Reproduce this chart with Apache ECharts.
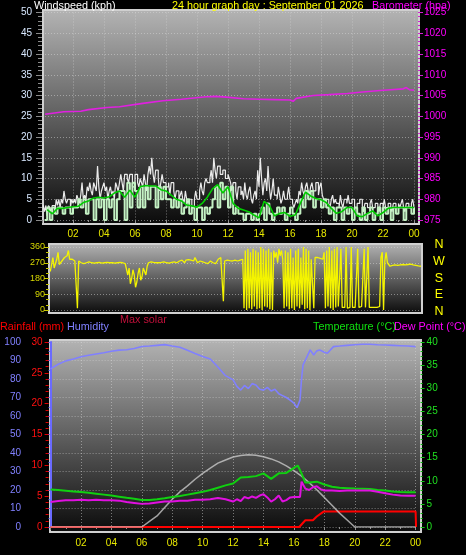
<!DOCTYPE html>
<html><head><meta charset="utf-8">
<script src="https://cdn.jsdelivr.net/npm/echarts@6/dist/echarts.min.js"></script>
<style>html,body{margin:0;padding:0;background:#000;}#c{width:466px;height:555px;}</style>
</head><body><div id="c"></div>
<script>
// ---------- DATA ----------
// wind gust every 5 minutes starting 00:05 (one row per hour)
const windGust = [
 3.5,2,3.5,1,3.5,3,2,3.5,3.5,2,5,3.5,
 5,3,5,4,7,5,4,5,5,3,5,4,
 5,4,6,5,4,6,9,5,6,5,8,7,
 9,7,6,9,8,7,13,8,5,7,8,9,
 7,8,5,7,8,6,7,5,9,8,7,9,
 11,9,7,11,11,10,9,11,11,8,8,11,
 11,9,8,10,9,8,11,9,7,11,13,11,
 15,11,9,12,12,10,7,9,11,9,9,8,
 8,9,6,9,9,7,5,7,7,5,6,7,
 5,4,7,5,4,5,5,3,3,5,7,5,
 5,7,9,7,6,9,10,9,9,10,12,9,
 15,12,10,13,13,11,11,12,12,10,10,11,
 10,9,7,9,9,7,5,8,8,6,7,5,
 9,6,5,7,8,5,4,6,7,5,12,8,
 15,10,6,9,10,7,13,8,5,7,10,6,
 6,5,8,6,4,5,7,5,5,6,8,5,
 5,4,3,4,5,4,7,6,9,7,6,8,
 9,7,6,8,9,7,7,9,9,6,8,9,
 6,5,4,5,5,4,3,5,6,4,5,4,
 4,3,6,4,3,5,5,4,6,4,4,5,
 5,3,3,4,4,5,5,3,2,4,4,3,
 3,4,5,3,3,4,4,3,2,4,4,3,
 5,3,3,4,4,3,2,4,4,3,3,4,
 3,4,5,3,2,4,4,3,3,4,5,3
];
// wind speed every 10 minutes starting 00:10
const windSpeed = [
 0,3,0,3,1.5,3,  3,1.5,3,3,1.5,3,  3,5,3,5,1.5,5,  5,0,5,3,5,0,
 5,3,5,0,5,7,  7,0,9,3,9,7,  3,8,3,8,5,8,  8,3,8,5,8,5,
 5,3,5,3,5,1.5,  3,5,1.5,3,0,3,  3,0,3,1.5,3,5,  8,3,9,5,8,3,
 8,1.5,3,1.5,1.5,0,  1.5,1.5,0,1.5,0,1.5,  3,0,4,1.5,0,1.5,  3,1.5,3,0,1.5,3,
 1.5,0,1.5,5,3,7,  5,7,3,5,5,3,  5,3,1.5,3,0,3,  3,0,3,1.5,3,0,
 3,1.5,0,3,0,1.5,  3,0,1.5,3,0,3,  1.5,3,0,3,1.5,3,  3,0,3,3,1.5,3
];
// average wind every 20 minutes starting 00:20
const windAvg = [
 2.5,1.5,2.8, 2.8,3.0,3.2, 3.3,4.2,4.6, 5.3,5.5,5.3, 5.6,6.5,7.0, 5.5,7.2,5.5,
 8.0,8.3,8.2, 8.2,7.3,7.0, 6.0,5.0,4.6, 3.6,3.4,3.1, 4.0,5.5,7.5, 8.5,6.5,8.0,
 4.0,2.8,2.4, 2.0,1.2,0.5, 4.5,3.5,1.0, 1.6,1.8,0.9, 1.2,4.0,6.7, 5.8,5.2,4.9,
 4.2,2.8,1.6, 2.0,3.0,3.0, 1.0,0.8,1.6, 2.2,1.0,1.8, 2.8,3.0,3.0, 3.0,3.0,3.0
];
// barometer [hour, hPa]
const barometer = [[0.2,1000.5],[1.4,1001.1],[2.5,1001.2],[3.0,1001.6],[4.2,1002.1],[5.0,1002.3],
 [6.5,1003.1],[7.8,1003.75],[9,1004.1],[10.6,1004.7],[11.2,1004.8],[11.9,1004.6],[13,1004.2],
 [14,1004.1],[15,1004.0],[16,1003.9],[16.2,1003.6],[16.4,1004.3],[17.5,1005.0],[18.5,1005.2],
 [19.7,1005.5],[20.5,1005.8],[21.8,1006.2],[22.5,1006.4],[23.3,1006.6],[23.5,1006.9],[23.7,1006.4],[24,1006.3]];
// wind direction every 5 minutes starting 00:05 (one row per hour)
const windDir = [
 220,260,300,240,250,290,330,260,260,280,280,300,
 290,310,340,290,280,290,300,280,280,10,280,275,
 270,272,265,270,270,268,275,270,270,272,268,270,
 270,268,272,270,268,270,270,272,272,270,270,268,
 270,272,268,270,270,268,272,270,270,268,265,262,
 200,240,150,180,230,200,130,160,210,240,170,190,
 240,220,200,250,270,272,275,270,272,270,270,268,
 270,270,272,268,275,272,270,270,268,270,272,275,
 275,272,270,275,280,278,285,280,270,285,290,288,
 290,285,275,280,300,285,270,278,280,282,275,270,
 270,268,265,270,280,275,270,268,265,270,290,285,
 300,290,50,280,280,285,285,282,280,280,280,285,
 275,280,270,285,280,290,10,340,0,350,10,330,
 5,350,20,340,5,330,10,360,0,350,20,340,
 15,350,5,330,0,340,300,330,270,350,310,340,
 290,10,340,20,330,5,350,10,300,0,340,20,
 350,10,300,30,360,5,350,10,340,0,290,300,
 10,300,295,300,290,295,285,290,330,10,340,20,
 360,10,340,0,350,15,360,20,15,350,15,20,
 15,360,10,20,15,360,15,20,15,10,350,15,
 15,20,15,350,15,10,360,15,20,15,20,15,
 20,15,15,20,300,330,0,280,330,270,260,250,
 250,255,255,258,260,255,255,258,258,260,260,258,
 258,260,260,262,262,258,258,255,255,252,250,250
];
const dirTicks = [0,90,180,270,360];
const compass = ['N','W','S','E','N'];
// bottom chart [hour, value]
const humidity = [[0,85.5],[0.5,88],[1,89.8],[1.5,90.8],[2,92],[2.5,92.8],[3,93.5],[3.5,94.2],[4,95],[4.5,95.6],
 [5,95.8],[5.5,96.5],[6,97.6],[6.5,97.8],[7,98.2],[7.5,98.6],[8,97.8],[8.5,97.2],[9,95.5],[9.5,93.8],[10,92.2],
 [10.5,90.8],[11,86.5],[11.5,81.8],[12,79.5],[12.25,76],[12.5,74],[12.75,76.5],[13,74.8],[13.25,77.5],[13.5,76.8],
 [13.75,74.5],[14,74],[14.25,75.5],[14.5,73.5],[14.75,74.5],[15,72],[15.25,71],[15.5,70],[15.75,68.6],[16,67],
 [16.2,64.5],[16.4,68.6],[16.5,80],[16.6,87.6],[16.8,91],[17.07,95.7],[17.3,93],[17.5,95.2],[17.7,95.7],[18,94.5],
 [18.2,93.9],[18.6,97.5],[19,97.8],[19.5,98.2],[20,98.5],[20.5,98.8],[21,98.8],[21.5,98.5],[22,98.4],[22.5,98.2],
 [23,98],[23.5,97.8],[24,97.5]];
const temperature = [[0,8.1],[0.5,8.0],[1,7.85],[1.5,7.7],[2,7.55],[2.5,7.4],[3,7.2],[3.5,7.0],[4,6.8],[4.5,6.55],
 [5,6.3],[5.5,6.1],[6,5.85],[6.5,5.85],[7,6.0],[7.5,6.2],[8,6.5],[8.5,6.7],[9,7.0],[9.5,7.3],[10,7.6],[10.5,8.0],
 [11,8.5],[11.5,9.0],[12,9.4],[12.5,10.7],[13,10.8],[13.5,11.0],[14,11.6],[14.5,10.4],[15,11.6],[15.5,11.7],
 [16,12.8],[16.25,13.3],[16.5,11.6],[16.75,9.6],[17,9.6],[17.5,9.8],[18,9.2],[18.5,8.7],[19,8.5],[19.5,8.4],
 [20,8.3],[20.5,8.25],[21,8.2],[21.5,8.0],[22,7.9],[22.5,7.7],[23,7.55],[23.5,7.5],[24,7.5]];
const dewPoint = [[0,5.4],[0.5,5.6],[1,5.8],[1.5,5.8],[2,5.9],[2.5,5.8],[3,5.9],[3.5,5.8],[4,5.8],[4.5,5.7],
 [5,5.4],[5.5,5.2],[6,5.0],[6.5,5.1],[7,5.3],[7.5,5.5],[8,5.5],[8.5,5.7],[9,5.7],[9.5,5.9],[10,5.9],[10.5,6.0],
 [11,6.25],[11.5,6.0],[12,5.5],[12.25,6.0],[12.5,5.6],[12.75,6.5],[13,6.2],[13.25,6.6],[13.5,6.3],[13.75,6.8],
 [14,7.1],[14.25,6.4],[14.5,5.5],[14.75,6.0],[15,6.8],[15.25,5.5],[15.5,5.8],[15.75,6.4],[16,6.5],[16.4,6.5],
 [16.5,9.8],[16.75,8.3],[17,8.0],[17.25,8.6],[17.5,8.8],[17.75,8.2],[18,7.9],[18.5,7.9],[19,7.8],[19.5,7.9],
 [20,7.9],[20.5,7.9],[21,7.9],[21.5,7.6],[22,7.3],[22.5,7.0],[23,6.8],[23.5,6.75],[24,6.75]];
const rainfall = [[0,0],[16.35,0],[16.75,1.1],[17.25,1.1],[17.5,1.7],[17.95,2.5],[24,2.5],[24.03,0]];
const maxSolar = [[0,0],[6,0],[6.5,30],[7,60],[7.5,105],[8,150],[8.5,190],[9,222],[9.5,258],[10,290],[10.5,318],
 [11,345],[11.5,362],[12,378],[12.5,387],[13,390],[13.5,388],[14,380],[14.5,368],[15,352],[15.5,330],[16,305],
 [16.5,275],[17,240],[17.5,201],[18,160],[18.5,118],[19,75],[19.5,38],[20,0],[24,0]];
const sunMarks = [7.0, 21.2];
const sunMarkRange = [-0.7, 2.5];

// ---------- CHART ----------
const FONT = '"Liberation Sans", Arial, sans-serif';
const chart = echarts.init(document.getElementById('c'), null, {renderer:'canvas'});
const hourFmt = v => v === 0 ? '' : ((v % 24) < 10 ? '0' : '') + (v % 24);
const plain = v => String(v);
const dotted = {show:true, lineStyle:{color:'rgba(215,215,215,0.5)', type:[1,2], width:1}};
function bg(x,y,w,h){
  return {type:'rect', z:-100, shape:{x,y,width:w,height:h},
    style:{fill:new echarts.graphic.LinearGradient(0,0,0,1,[{offset:0,color:'#b4b4b4'},{offset:1,color:'#0a0a0a'}]),
      stroke:'#d0d0d0', lineWidth:2}};
}
function txt(x,y,text,color,size,align){
  return {type:'text', z:100, x, y, style:{text, fill:color, font:(size||10.8)+'px '+FONT, textAlign:align||'left', textVerticalAlign:'middle'}};
}
const gfx = [
  bg(43,10,376,214), bg(49,244,373,69), bg(50,340,371,192),
  txt(34,6,'Windspeed (kph)','#ffffff'),
  txt(172,6,'24 hour graph day : September 01 2026','#ffff00'),
  txt(372,6,'Barometer (hpa)','#ff00ff'),
  txt(0,327,'Rainfall (mm)','#ff0000'),
  txt(67,327,'Humidity','#8080ff'),
  txt(120,320,'Max solar','#c0103a'),
  txt(313,327,'Temperature (°C)','#10e010'),
  txt(394,327,'Dew Point (°C)','#ff00ff')
];
compass.forEach((c,i)=>gfx.push(txt(439,245+i*16.6,c,'#ffff00',12.5,'center')));

const xBase = (gi, show, lblY) => ({type:'value', gridIndex:gi, min:0, max:24, interval:2,
  axisLine:{show:false}, axisTick:{show:show, length:3, lineStyle:{color:'#909090'}},
  minorTick:{show:show, splitNumber:2, length:2, lineStyle:{color:'#909090'}},
  axisLabel:{show:show, formatter:hourFmt, color:'#e8e800', fontSize:10, fontFamily:FONT, margin:lblY},
  splitLine: gi===1 ? {show:false} : dotted});

const option = {
  backgroundColor:'#000',
  animation:false,
  graphic: gfx,
  grid:[
    {left:42, top:12.5, width:372, height:207.5},
    {left:49, top:247, width:372, height:63},
    {left:50.6, top:342, width:365, height:185}
  ],
  xAxis:[ xBase(0,true,9), xBase(1,false,0), xBase(2,true,11) ],
  yAxis:[
    {type:'value', gridIndex:0, min:0, max:50, interval:5, position:'left',
     axisLine:{show:false}, axisTick:{show:true,length:6,lineStyle:{color:'#8a8a8a'}},
     minorTick:{show:true,splitNumber:5,length:4,lineStyle:{color:'#8a8a8a'}},
     axisLabel:{color:'#d8e8ff', fontSize:10, fontFamily:FONT, margin:10, formatter:plain}, splitLine:dotted},
    {type:'value', gridIndex:0, min:975, max:1025, interval:5, position:'right', offset:4,
     axisLine:{show:false}, axisTick:{show:true,length:5,lineStyle:{color:'#d020d0'}},
     minorTick:{show:true,splitNumber:5,length:2,lineStyle:{color:'#d020d0'}},
     axisLabel:{color:'#ff00ff', fontSize:10, fontFamily:FONT, margin:6, formatter:plain}, splitLine:{show:false}},
    {type:'value', gridIndex:1, min:0, max:360, interval:90, position:'left',
     axisLine:{show:false}, axisTick:{show:true,length:5,lineStyle:{color:'#c8c800'}},
     minorTick:{show:true,splitNumber:3,length:3,lineStyle:{color:'#c8c800'}},
     axisLabel:{color:'#d8d800', fontSize:9, fontFamily:FONT, margin:4, formatter:plain,
       customValues:dirTicks}, splitLine:dotted},
    {type:'value', gridIndex:2, min:0, max:100, interval:10, position:'left', offset:20.6,
     axisLine:{show:true, lineStyle:{color:'#6a6aff', width:2}},
     axisTick:{show:true,length:4,lineStyle:{color:'#6a6aff'}},
     minorTick:{show:true,splitNumber:2,length:2,lineStyle:{color:'#6a6aff'}},
     axisLabel:{color:'#8080ff', fontSize:10, fontFamily:FONT, margin:9, formatter:plain}, splitLine:dotted},
    {type:'value', gridIndex:2, min:0, max:30, interval:5, position:'left', offset:2,
     axisLine:{show:false}, axisTick:{show:true,length:4,lineStyle:{color:'#e00000'}},
     minorTick:{show:true,splitNumber:5,length:3,lineStyle:{color:'#e00000'}},
     axisLabel:{color:'#ff1010', fontSize:10, fontFamily:FONT, margin:6, formatter:plain}, splitLine:{show:false}},
    {type:'value', gridIndex:2, min:0, max:40, interval:5, position:'right', offset:5,
     axisLine:{show:false}, axisTick:{show:true,length:4,lineStyle:{color:'#10c010'}},
     minorTick:{show:true,splitNumber:5,length:2,lineStyle:{color:'#10c010'}},
     axisLabel:{color:'#20e020', fontSize:10, fontFamily:FONT, margin:6, formatter:plain}, splitLine:{show:false}},
    {type:'value', gridIndex:2, min:0, max:1000, show:false}
  ],
  series:[
    {type:'line', xAxisIndex:0, yAxisIndex:0, step:'end', showSymbol:false, z:2,
     data:windGust.map((v,i)=>[(i+1)/12, v]), lineStyle:{color:'rgba(245,245,245,0.95)', width:1.2}},
    {type:'line', xAxisIndex:0, yAxisIndex:0, step:'end', showSymbol:false, z:3,
     data:windSpeed.map((v,i)=>[(i+1)/6, v]), lineStyle:{color:'#c4f2c4', width:2}},
    {type:'line', xAxisIndex:0, yAxisIndex:0, showSymbol:false, z:4,
     data:windAvg.map((v,i)=>[(i+1)/3, v]), lineStyle:{color:'#00cc00', width:1.6}},
    {type:'line', xAxisIndex:0, yAxisIndex:1, showSymbol:false, z:4,
     data:barometer, lineStyle:{color:'#e020e0', width:1.6}},
    {type:'line', xAxisIndex:1, yAxisIndex:2, showSymbol:false, z:3,
     data:windDir.map((v,i)=>[(i+1)/12, v]), lineStyle:{color:'#f4f400', width:1.3}},
    {type:'line', xAxisIndex:2, yAxisIndex:3, showSymbol:false, z:3,
     data:humidity, lineStyle:{color:'#8080ff', width:1.6}},
    {type:'line', xAxisIndex:2, yAxisIndex:4, showSymbol:false, z:3, clip:false,
     data:rainfall, lineStyle:{color:'#ff0000', width:2},
     markLine:{silent:true, symbol:'none', label:{show:false}, lineStyle:{color:'#b0a020', width:2, type:'solid'},
       data:sunMarks.map(h=>[{coord:[h,sunMarkRange[0]]},{coord:[h,sunMarkRange[1]]}])}},
    {type:'line', xAxisIndex:2, yAxisIndex:6, showSymbol:false, z:4,
     data:maxSolar, lineStyle:{color:'rgba(210,210,210,0.75)', width:1.5}},
    {type:'line', xAxisIndex:2, yAxisIndex:5, showSymbol:false, z:5,
     data:temperature, lineStyle:{color:'#10d010', width:2}},
    {type:'line', xAxisIndex:2, yAxisIndex:5, showSymbol:false, z:5,
     data:dewPoint, lineStyle:{color:'#e010e0', width:2}}
  ]
};
chart.setOption(option);
</script></body></html>
